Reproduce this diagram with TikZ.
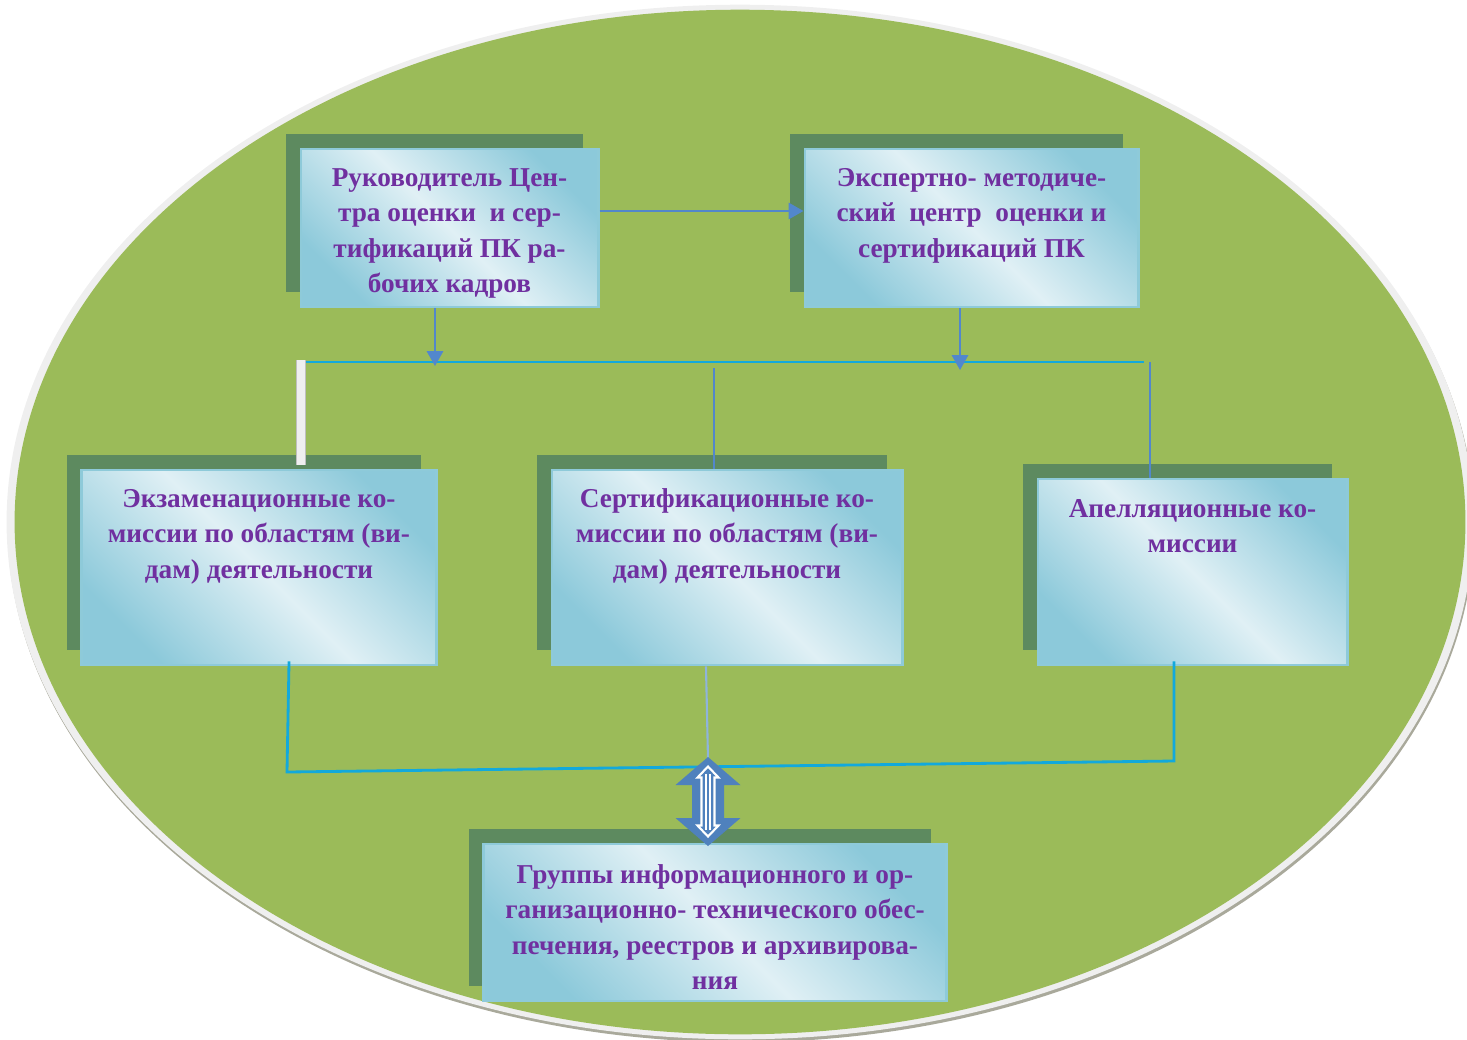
\documentclass[tikz,border=0pt]{standalone}
\usepackage{fontspec}
\setmainfont{Liberation Serif}
\usetikzlibrary{positioning,shadows,arrows.meta}

\definecolor{ellgreen}{HTML}{9BBB59}
\definecolor{ellrim}{HTML}{EFEFEF}
\definecolor{ellshade}{HTML}{A9A99B}
\definecolor{shgreen}{HTML}{5D8A5F}
\definecolor{boxdark}{HTML}{8CC9DA}
\definecolor{boxlight}{HTML}{E0F0F5}
\definecolor{boxrim}{HTML}{8ECAD9}
\definecolor{txtpurple}{HTML}{7030A0}
\definecolor{linkblue}{HTML}{5287CC}
\definecolor{buscyan}{HTML}{12A9DC}
\definecolor{paleblue}{HTML}{8EB4DC}
\definecolor{dblblue}{HTML}{4F81BD}

\begin{document}
\begin{tikzpicture}[x=0.01cm,y=-0.01cm]
    \tikzstyle{box}=[rectangle, draw=boxrim, line width=0.8pt, inner sep=0pt, top color=boxdark, bottom color=boxdark, middle color=boxlight, shading angle=-45, general shadow={fill=shgreen, shadow xshift=-0.15cm, shadow yshift=0.15cm}]
    \tikzstyle{txt}=[text=txtpurple, font=\bfseries\fontsize{7.75}{10.1}\selectfont, align=center, inner sep=0pt]
    \tikzstyle{arr}=[draw=linkblue, line width=0.6pt, -{Triangle[width=4.6pt,length=4.2pt]}]
    \tikzstyle{link}=[draw=linkblue, line width=0.5pt]
    \tikzstyle{bus}=[draw=buscyan, line width=0.8pt]

    \useasboundingbox (0,0) rectangle (1467,1039);

    % Background
    \fill[ellshade] (741,525) ellipse [x radius=7.33cm, y radius=5.17cm];
    \fill[ellrim] (740,522) ellipse [x radius=7.33cm, y radius=5.17cm];
    \fill[ellgreen] (740,522) ellipse [x radius=7.25cm, y radius=5.12cm];

    % Top row
    \node[box, minimum width=2.97cm, minimum height=1.58cm] (ruk) at (449.5,228) {};
    \node[txt, below=0.2cm of ruk.north] (rukT) {Руководитель Цен-\\тра оценки~ и сер-\\тификаций ПК ра-\\бочих кадров};

    \node[box, minimum width=3.33cm, minimum height=1.58cm] (eks) at (971.5,228) {};
    \node[txt, below=0.2cm of eks.north] (eksT) {Экспертно- методиче-\\ский~ центр~ оценки и\\сертификаций ПК};

    % Commissions
    \node[box, minimum width=3.54cm, minimum height=1.95cm] (ekz) at (259,567.5) {};
    \node[txt, below=0.2cm of ekz.north] (ekzT) {Экзаменационные ко-\\миссии по областям (ви-\\дам) деятельности};

    \node[box, minimum width=3.50cm, minimum height=1.95cm] (sert) at (727,567.5) {};
    \node[txt, below=0.19cm of sert.north] (sertT) {Сертификационные ко-\\миссии по областям (ви-\\дам) деятельности};

    \node[box, minimum width=3.09cm, minimum height=1.86cm] (apel) at (1192.5,572) {};
    \node[txt, below=0.21cm of apel.north] (apelT) {Апелляционные ко-\\миссии};

    % Support group
    \node[box, minimum width=4.62cm, minimum height=1.57cm] (grp) at (715,922.5) {};
    \node[txt, below=0.21cm of grp.north] (grpT) {Группы информационного и ор-\\ганизационно- технического обес-\\печения, реестров и архивирова-\\ния};

    % Bus
    \coordinate (busL) at (305,362);
    \coordinate (busR) at (1144,362);
    \coordinate (barT) at (301,360);
    \coordinate (midT) at (714,368);
    \coordinate (apT) at (1150,362);
    \draw[bus] (busL) -- (busR);

    % Connections
    \draw[arr] ([yshift=0.17cm]ruk.east) -- ([yshift=0.17cm]ruk.east -| eks.west);
    \draw[arr] ([xshift=-0.145cm]ruk.south) -- ([xshift=-0.145cm,yshift=-0.04cm]ruk.south |- busL);
    \draw[arr] ([xshift=-0.115cm]eks.south) -- ([xshift=-0.115cm,yshift=-0.08cm]eks.south |- busL);

    \draw[draw=black!25, line width=2.6pt] (barT) -- ([yshift=0.04cm]barT |- ekz.north);
    \draw[draw=ellrim, line width=2.0pt] (barT) -- ([yshift=0.04cm]barT |- ekz.north);
    \draw[link] (midT) -- (midT |- sert.north);
    \draw[link] (apT) -- (apT |- apel.north);

    % Lower connections
    \coordinate (loL) at (287,772);
    \coordinate (loR) at (1174,761);
    \coordinate (dbl) at (708,801.5);
    \draw[bus] ([xshift=0.3cm,yshift=0.05cm]ekz.south) -- (loL) -- (loR) -- ([xshift=-0.185cm,yshift=0.05cm]apel.south);
    \draw[draw=paleblue, line width=0.6pt] ([xshift=-0.21cm]sert.south) -- ([yshift=0.42cm]dbl);

    % Double arrow
    \fill[dblblue] (dbl) ++(0,-44.5) -- ++(32.5,28) -- ++(-16.5,0) -- ++(0,33) -- ++(16.5,0) -- ++(-32.5,28) -- ++(-32.5,-28) -- ++(16.5,0) -- ++(0,-33) -- ++(-16.5,0) -- cycle;
    \draw[white, line width=0.6pt] (dbl) ++(0,-35) -- ++(10.5,11) -- ++(-4,0) -- ++(0,48) -- ++(4,0) -- ++(-10.5,11) -- ++(-10.5,-11) -- ++(4,0) -- ++(0,-48) -- ++(-4,0) -- cycle;
    \draw[white, line width=0.5pt] (dbl) ++(-2,-28) -- ++(0,56);
    \draw[white, line width=0.5pt] (dbl) ++(2,-28) -- ++(0,56);
\end{tikzpicture}
\end{document}
